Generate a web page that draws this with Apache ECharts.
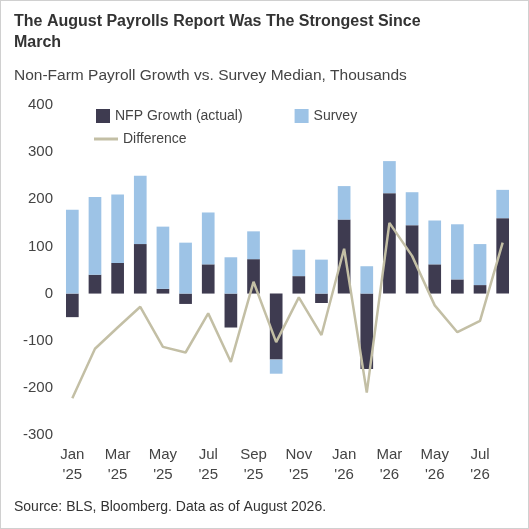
<!DOCTYPE html>
<html>
<head>
<meta charset="utf-8">
<script src="https://cdn.jsdelivr.net/npm/echarts@6/dist/echarts.min.js"></script>
<style>
html,body{margin:0;padding:0;background:#fff;}
#chart{width:529px;height:529px;box-sizing:border-box;border:1px solid #d0d0d0;}
</style>
</head>
<body>
<div id="chart"></div>
<script>
var months = ["Jan\n'25","Feb\n'25","Mar\n'25","Apr\n'25","May\n'25","Jun\n'25","Jul\n'25","Aug\n'25","Sep\n'25","Oct\n'25","Nov\n'25","Dec\n'25",
  "Jan\n'26","Feb\n'26","Mar\n'26","Apr\n'26","May\n'26","Jun\n'26","Jul\n'26","Aug\n'26"];
var nfpGrowth = [-50, 40, 65, 105, 10, -22, 62, -72, 73, -140, 37, -20, 157, -160, 213, 145, 62, 30, 18, 160];
var survey = [178, 165, 145, 145, 132, 108, 110, 77, 59, -30, 56, 72, 71, 58, 68, 70, 93, 117, 87, 60];
var difference = [-222, -117, -72, -28, -113, -125, -42, -145, 25, -103, -8, -88, 95, -210, 150, 80, -25, -82, -58, 108];

var myChart = echarts.init(document.getElementById('chart'));
var font = 'Liberation Sans, Arial, sans-serif';
var option = {
  animation: false,
  textStyle: {fontFamily: font},
  title: [{
    text: 'The August Payrolls Report Was The Strongest Since\nMarch',
    left: 8, top: 5,
    textStyle: {fontSize: 16, fontWeight: 'bold', color: '#333', lineHeight: 21, fontFamily: font}
  }, {
    text: 'Non-Farm Payroll Growth vs. Survey Median, Thousands',
    left: 8, top: 62,
    textStyle: {fontSize: 15.5, fontWeight: 'normal', color: '#444', fontFamily: font}
  }, {
    text: 'Source: BLS, Bloomberg. Data as of August 2026.',
    left: 8, top: 494,
    textStyle: {fontSize: 14, fontWeight: 'normal', color: '#333', fontFamily: font}
  }],
  legend: [{
    data: ['NFP Growth (actual)', 'Survey'],
    left: 90, top: 103, itemGap: 52, itemWidth: 14, itemHeight: 14, icon: 'rect',
    textStyle: {fontSize: 14, color: '#444'}
  }, {
    data: ['Difference'],
    left: 88, top: 126, itemWidth: 24, itemHeight: 3, icon: 'rect',
    textStyle: {fontSize: 14, color: '#444'}
  }],
  grid: {left: 60, right: 14, top: 104, bottom: 93},
  xAxis: {
    type: 'category', data: months,
    axisLine: {onZero: false, show: false},
    axisTick: {show: false},
    axisLabel: {interval: 1, fontSize: 15, color: '#444', lineHeight: 20, margin: 10}
  },
  yAxis: {
    type: 'value', min: -300, max: 400, interval: 100,
    splitLine: {show: false},
    axisLabel: {fontSize: 15, color: '#444'}
  },
  series: [{
    name: 'NFP Growth (actual)', type: 'bar', stack: 'a', data: nfpGrowth,
    barWidth: '56%', itemStyle: {color: '#3e3b50'}
  }, {
    name: 'Survey', type: 'bar', stack: 'a', data: survey,
    itemStyle: {color: '#9dc3e6'}
  }, {
    name: 'Difference', type: 'line', data: difference, symbol: 'none',
    lineStyle: {color: '#c3bfa5', width: 2.5}, itemStyle: {color: '#c3bfa5'}, z: 5
  }]
};
myChart.setOption(option);
</script>
</body>
</html>
